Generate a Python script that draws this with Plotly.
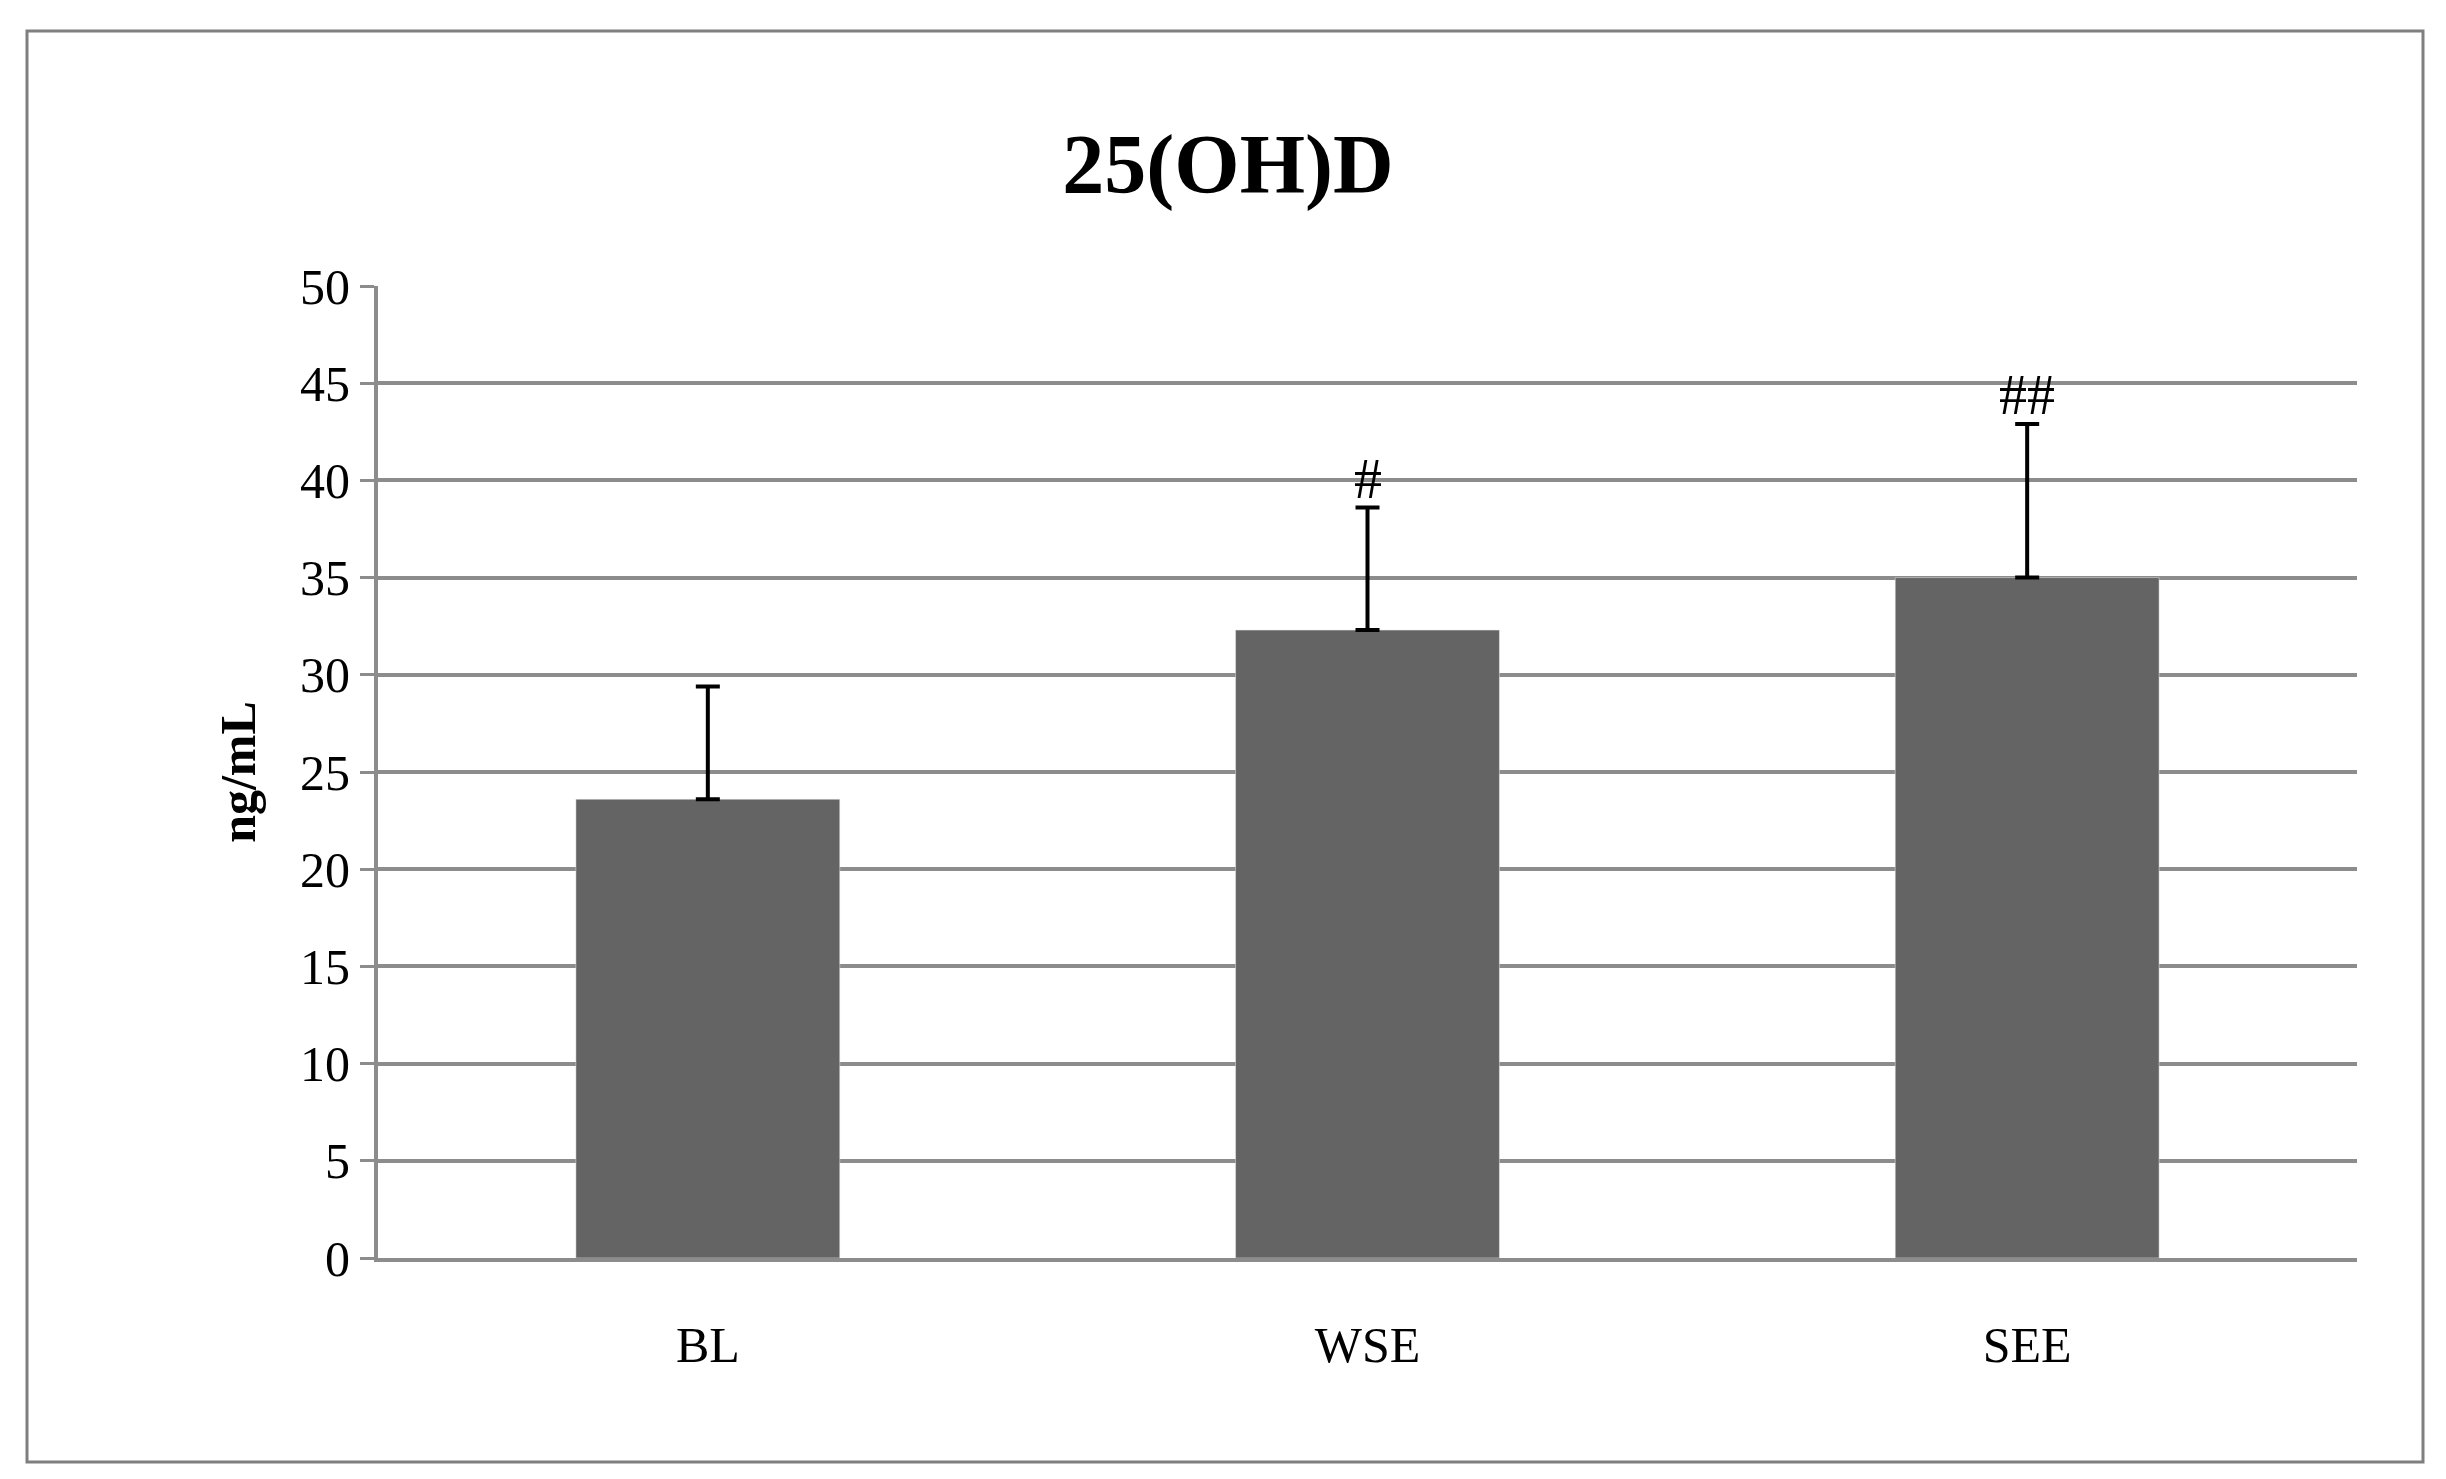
import plotly.graph_objects as go

categories = ["BL", "WSE", "SEE"]
values = [23.6, 32.3, 35.0]
err_plus = [5.8, 6.3, 7.9]
marks = ["", "#", "##"]

W, H = 2446, 1479
L, R, T, B = 370, 97, 278, 229
pw, ph = W - L - R, H - T - B
font = "Liberation Serif"

fig = go.Figure(go.Bar(
    x=categories, y=values, width=0.4, marker_color="#646464",
    error_y=dict(type="data", array=err_plus, arrayminus=[0, 0, 0], symmetric=False,
                 color="black", thickness=4, width=12),
))
for c, v, e, m in zip(categories, values, err_plus, marks):
    if m:
        fig.add_annotation(x=c, y=v + e, text=m, showarrow=False, yanchor="bottom",
                           yshift=-4, font=dict(family=font, size=56, color="black"))

fig.add_shape(type="rect", xref="paper", yref="paper",
              x0=(19 - L) / pw, x1=(2415 - L) / pw,
              y0=(H - B - 1454) / ph, y1=(H - B - 23) / ph,
              line=dict(color="#7f7f7f", width=3))

fig.update_layout(
    width=W, height=H, margin=dict(l=L, r=R, t=T, b=B),
    plot_bgcolor="white", paper_bgcolor="white", showlegend=False,
    title=dict(text="<b>25(OH)D</b>", x=(1220 - L) / pw, xref="paper", xanchor="center",
               y=1 - 156 / H, yanchor="middle", font=dict(family=font, size=84, color="black")),
    font=dict(family=font, size=50, color="black"),
    bargap=0.6,
)
fig.update_xaxes(showgrid=False, showline=True, linecolor="#8c8c8c", linewidth=4,
                 ticks="", tickfont=dict(size=50), ticklabelstandoff=40)
fig.update_yaxes(range=[0, 50], dtick=5, showgrid=True, gridcolor="#8c8c8c", gridwidth=4,
                 showline=True, linecolor="#8c8c8c", linewidth=4, ticks="outside",
                 ticklen=14, tickcolor="#8c8c8c", tickwidth=3, zeroline=False,
                 tickfont=dict(size=50),
                 title=dict(text="<b>ng/mL</b>", font=dict(size=50), standoff=30))
fig.write_html("out.html")
